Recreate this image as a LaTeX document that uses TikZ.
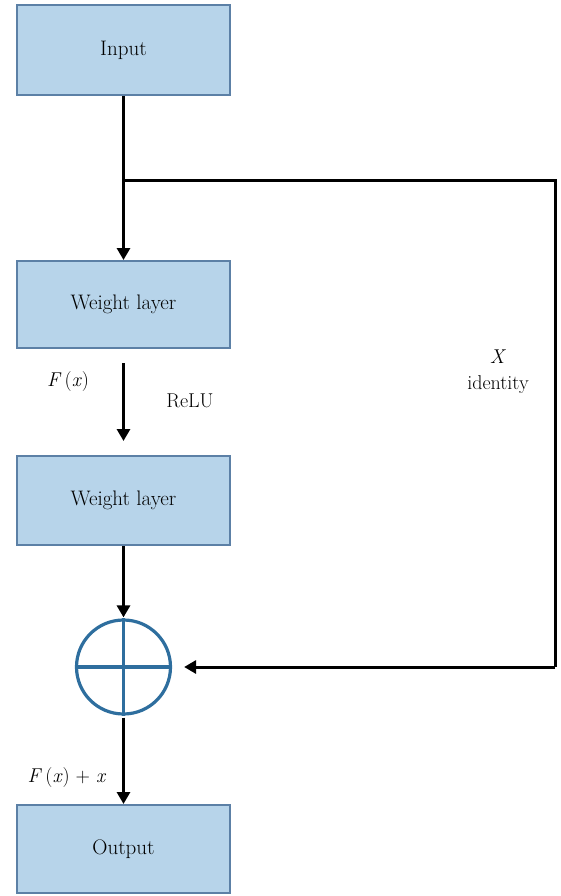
\documentclass[tikz,border=0pt]{standalone}
\usetikzlibrary{arrows.meta}
\definecolor{boxfill}{RGB}{183,212,234}
\definecolor{boxedge}{RGB}{92,128,166}
\definecolor{sumblue}{RGB}{46,110,158}
\begin{document}
\begin{tikzpicture}[x=1pt,y=-1pt,
  layer/.style={draw=boxedge,fill=boxfill,line width=2pt,minimum width=213pt,
    inner sep=0pt,font=\fontsize{21}{25}\selectfont},
  flow/.style={line width=3pt,-{Triangle[width=13pt,length=12pt]}},
  plainline/.style={line width=3pt},
  lbl/.style={font=\fontsize{20}{24}\selectfont,inner sep=0pt},
  mathlbl/.style={font=\fontsize{20}{24}\selectfont,inner sep=0pt}]
\useasboundingbox (0,0) rectangle (560,896);
% processing blocks
\node[layer,minimum height=90pt] (in) at (123.5,50) {Input};
\node[layer,minimum height=87pt] (w1) at (123.5,304.5) {Weight layer};
\node[layer,minimum height=89pt] (w2) at (123.5,500.5) {Weight layer};
\node[layer,minimum height=88pt] (out) at (123.5,849) {Output};
% summation junction
\node[circle,draw=sumblue,line width=3.2pt,minimum size=94pt,inner sep=0pt] (sum) at (123.5,667) {};
\draw[sumblue,line width=3.2pt] (sum.north) -- (sum.south) (sum.west) -- (sum.east);
% main path
\coordinate (split) at (123.5,181);
\coordinate (corner) at (555,667);
\draw[flow] (in.south) -- (w1.north);
\draw[flow,shorten <=14pt,shorten >=14pt] (w1.south) -- (w2.north);
\draw[flow,shorten >=1pt] (w2.south) -- (sum.north);
\draw[flow,shorten <=2pt] (sum.south) -- (out.north);
% identity shortcut
\draw[plainline] (split) -| (corner);
\draw[flow,shorten >=12pt] (corner) -- (sum.east);
% labels
\node[mathlbl] (fx) at (68,382) {\textit{F}\,(\textit{x})};
\node[lbl] (relu) at (190,401) {ReLU};
\node[lbl] (xl) at (498,357) {\textit{X}};
\node[lbl] (idl) at (498,385) {identity};
\node[mathlbl] (fxx) at (67,778) {\textit{F}\,(\textit{x}) + \textit{x}};
\end{tikzpicture}
\end{document}
